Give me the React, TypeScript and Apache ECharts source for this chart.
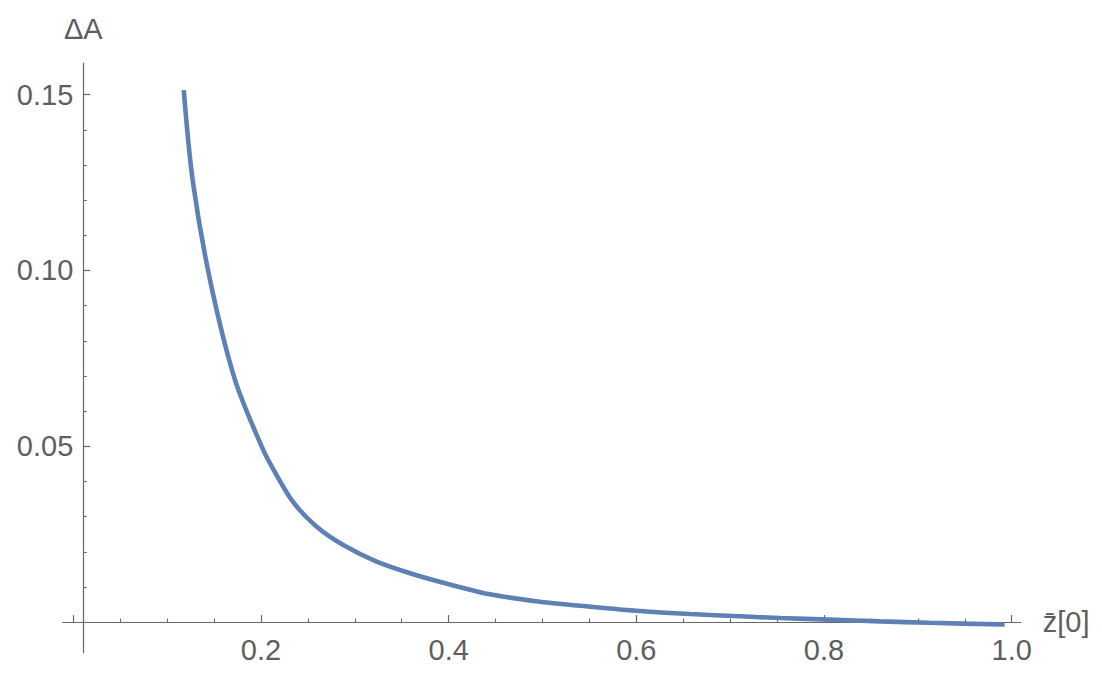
import React, { useEffect, useRef } from "react";
import * as echarts from "echarts";

// curve samples (z̄[0], ΔA)
const zValues = [
  0.1177, 0.1272, 0.1457, 0.1723, 0.2008, 0.2135, 0.2344, 0.2594, 0.2877,
  0.3233, 0.3588, 0.3943, 0.444, 0.4973, 0.5506, 0.6039, 0.6572, 0.7105,
  0.7531, 0.8064, 0.8597, 0.913, 0.9925,
];
const deltaA = [
  0.1513, 0.1257, 0.0973, 0.0689, 0.0499, 0.0433, 0.0341, 0.0271, 0.0219,
  0.0172, 0.0139, 0.0112, 0.0079, 0.0058, 0.0044, 0.00316, 0.0023, 0.00165,
  0.00117, 0.0007, 0.0002, -0.0002, -0.0007,
];

// ticks
const xMajorTicks = [0, 0.2, 0.4, 0.6, 0.8, 1.0];
const xLabelValues = [0.2, 0.4, 0.6, 0.8, 1.0];
const xMinorTicks = [
  0.05, 0.1, 0.15, 0.25, 0.3, 0.35, 0.45, 0.5, 0.55, 0.65, 0.7, 0.75, 0.85,
  0.9, 0.95,
];
const yMajorTicks = [0.05, 0.1, 0.15];
const yMinorTicks = [
  0.01, 0.02, 0.03, 0.04, 0.06, 0.07, 0.08, 0.09, 0.11, 0.12, 0.13, 0.14,
];

const X_MIN = -0.0113;
const X_MAX = 1.0096;
const Y_MIN = -0.0087;
const Y_MAX = 0.159;

const FONT = "'Liberation Sans', Arial, Helvetica, sans-serif";
const TEXT_COLOR = "#5e5e5e";
const AXIS_COLOR = "#666666";
const LINE_COLOR = "#5E81B5";

export default function App() {
  const ref = useRef<HTMLDivElement>(null);

  useEffect(() => {
    if (!ref.current) return;
    const chart = echarts.init(ref.current, null, { renderer: "svg" });

    const data = zValues.map((z, i) => [z, deltaA[i]]);

    const baseX = {
      type: "value" as const,
      min: X_MIN,
      max: X_MAX,
      position: "bottom" as const,
      splitLine: { show: false },
    };
    const baseY = {
      type: "value" as const,
      min: Y_MIN,
      max: Y_MAX,
      position: "left" as const,
      offset: -20.6,
      splitLine: { show: false },
    };

    chart.setOption({
      animation: false,
      backgroundColor: "#ffffff",
      grid: {
        left: 62.7,
        top: 63,
        width: 958,
        height: 589.7,
        containLabel: false,
        outerBoundsMode: "none",
      },
      xAxis: [
        {
          ...baseX,
          axisLine: {
            show: true,
            onZero: true,
            onZeroAxisIndex: 0,
            lineStyle: { color: AXIS_COLOR, width: 1.2 },
          },
          axisTick: {
            show: true,
            inside: true,
            length: 7,
            customValues: xMajorTicks,
            lineStyle: { color: AXIS_COLOR, width: 1.2 },
          },
          axisLabel: {
            show: true,
            customValues: xLabelValues,
            formatter: (v: number) => v.toFixed(1),
            color: TEXT_COLOR,
            fontFamily: FONT,
            fontSize: 29,
            margin: -17,
          },
          name: "z\u0304[0]",
          nameLocation: "end",
          nameGap: 22,
          nameMoveOverlap: false,
          nameTextStyle: {
            color: TEXT_COLOR,
            fontFamily: FONT,
            fontSize: 29,
            padding: [20, 0, 0, 0],
          },
        },
        {
          ...baseX,
          axisLine: {
            show: true,
            onZero: true,
            onZeroAxisIndex: 0,
            lineStyle: { color: AXIS_COLOR, width: 1, opacity: 0 },
          },
          axisTick: {
            show: true,
            inside: true,
            length: 3.5,
            customValues: xMinorTicks,
            lineStyle: { color: AXIS_COLOR, width: 1.1 },
          },
          axisLabel: { show: false },
        },
      ],
      yAxis: [
        {
          ...baseY,
          axisLine: {
            show: true,
            onZero: false,
            lineStyle: { color: AXIS_COLOR, width: 1.2 },
          },
          axisTick: {
            show: true,
            inside: true,
            length: 7,
            customValues: yMajorTicks,
            lineStyle: { color: AXIS_COLOR, width: 1.2 },
          },
          axisLabel: {
            show: true,
            customValues: yMajorTicks,
            formatter: (v: number) => v.toFixed(2),
            color: TEXT_COLOR,
            fontFamily: FONT,
            fontSize: 29,
            margin: 10,
          },
          name: "ΔA",
          nameLocation: "end",
          nameGap: 20,
          nameMoveOverlap: false,
          nameTextStyle: {
            color: TEXT_COLOR,
            fontFamily: FONT,
            fontSize: 29,
            align: "center",
          },
        },
        {
          ...baseY,
          axisLine: {
            show: true,
            onZero: false,
            lineStyle: { color: AXIS_COLOR, width: 1, opacity: 0 },
          },
          axisTick: {
            show: true,
            inside: true,
            length: 3.5,
            customValues: yMinorTicks,
            lineStyle: { color: AXIS_COLOR, width: 1.1 },
          },
          axisLabel: { show: false },
        },
      ],
      series: [
        {
          type: "line",
          xAxisIndex: 0,
          yAxisIndex: 0,
          data,
          showSymbol: false,
          symbol: "none",
          smooth: 0.3,
          clip: false,
          lineStyle: { color: LINE_COLOR, width: 4.6, cap: "butt" },
          itemStyle: { color: LINE_COLOR },
        },
      ],
    });

    return () => {
      chart.dispose();
    };
  }, []);

  return (
    <div
      ref={ref}
      style={{
        position: "fixed",
        left: 0,
        top: 0,
        width: 1102,
        height: 676,
        background: "#ffffff",
      }}
    />
  );
}
